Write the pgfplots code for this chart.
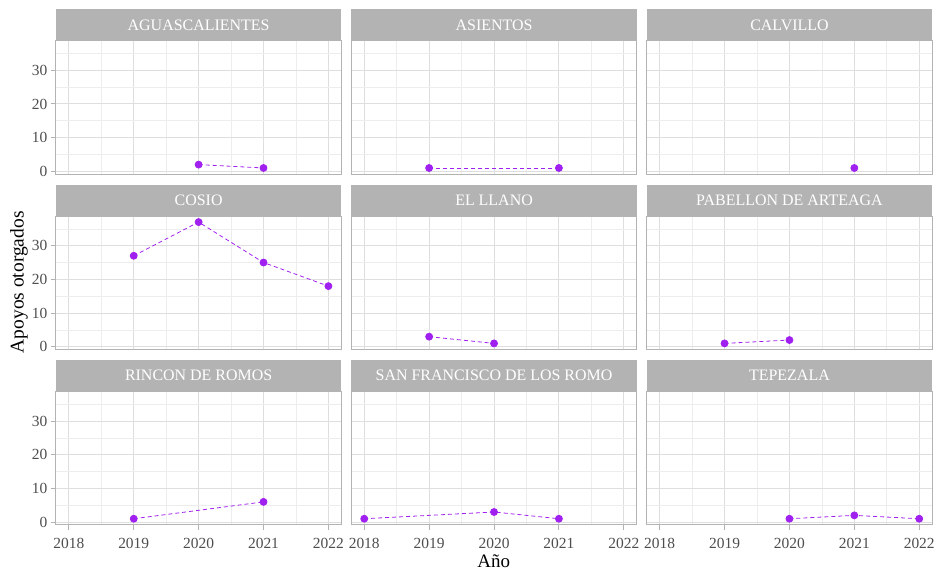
\documentclass[border=0pt]{standalone}
\usepackage{pgfplots}
\pgfplotsset{compat=1.18}
\usepackage{fontspec}
\setmainfont{Liberation Serif}
\definecolor{grA}{HTML}{B3B3B3}
\definecolor{grMaj}{HTML}{DEDEDE}
\definecolor{grMin}{HTML}{EDEDED}
\definecolor{grTxt}{HTML}{4D4D4D}
\definecolor{purp}{HTML}{A020F0}
\pgfplotsset{
  facet/.style={
    scale only axis, width=286.3pt, height=133.8pt, anchor=north west,
    xmin=2017.8, xmax=2022.2, ymin=-0.8, ymax=38.8,
    xtick={2018,2019,2020,2021,2022}, ytick={0,10,20,30},
    minor xtick={2018.5,2019.5,2020.5,2021.5}, minor ytick={5,15,25,35},
    grid=both,
    major grid style={color=grMaj, line width=0.9pt},
    minor grid style={color=grMin, line width=0.6pt},
    axis line style={grA, line width=0.9pt},
    tick style={color=grA, line width=0.9pt},
    major tick length=5pt, minor tick length=0pt,
    tick align=outside, xtick pos=bottom, ytick pos=left,
    /pgf/number format/1000 sep={},
    /pgf/number format/assume math mode=true,
    ticklabel style={font=\fontsize{15.5}{18}\selectfont, text=grTxt},
    xticklabel style={yshift=-5pt},
    every axis title shift=0pt,
    title style={at={(0.5,1)}, anchor=south, yshift=0pt, fill=grA, inner sep=0pt,
      minimum width=286.3pt, minimum height=31pt, text=white,
      font=\fontsize{16}{19}\selectfont},
    every axis plot post/.append style={color=purp, line width=0.8pt,
      dash pattern=on 4pt off 3pt, mark=*, mark size=3.5pt,
      mark options={solid, fill=purp, draw=purp}},
  },
  nox/.style={xticklabels={}, xtick style={draw=none}},
  noy/.style={yticklabels={}, ytick style={draw=none}},
}
\begin{document}
\begin{tikzpicture}
\path (0,0) rectangle (938pt,-571pt);
% row 1
\begin{axis}[facet, nox, at={(56pt,-40.7pt)}, title={AGUASCALIENTES}]
\addplot coordinates {(2020,2) (2021,1)};
\end{axis}
\begin{axis}[facet, nox, noy, at={(352.2pt,-40.7pt)}, title={ASIENTOS}]
\addplot coordinates {(2019,1) (2021,1)};
\end{axis}
\begin{axis}[facet, nox, noy, at={(648.4pt,-40.7pt)}, title={CALVILLO}]
\addplot coordinates {(2021,1)};
\end{axis}
% row 2
\begin{axis}[facet, nox, at={(56pt,-216.6pt)}, title={COSIO}]
\addplot coordinates {(2019,27) (2020,37) (2021,25) (2022,18)};
\end{axis}
\begin{axis}[facet, nox, noy, at={(352.2pt,-216.6pt)}, title={EL LLANO}]
\addplot coordinates {(2019,3) (2020,1)};
\end{axis}
\begin{axis}[facet, nox, noy, at={(648.4pt,-216.6pt)}, title={PABELLON DE ARTEAGA}]
\addplot coordinates {(2019,1) (2020,2)};
\end{axis}
% row 3
\begin{axis}[facet, at={(56pt,-392.4pt)}, title={RINCON DE ROMOS}]
\addplot coordinates {(2019,1) (2021,6)};
\end{axis}
\begin{axis}[facet, noy, at={(352.2pt,-392.4pt)}, title={SAN FRANCISCO DE LOS ROMO}]
\addplot coordinates {(2018,1) (2020,3) (2021,1)};
\end{axis}
\begin{axis}[facet, noy, at={(648.4pt,-392.4pt)}, title={TEPEZALA}]
\addplot coordinates {(2020,1) (2021,2) (2022,1)};
\end{axis}
\node[font=\fontsize{19}{22}\selectfont] at (495pt,-563pt) {Año};
\node[font=\fontsize{19.5}{22}\selectfont, rotate=90] at (19pt,-283pt) {Apoyos otorgados};
\end{tikzpicture}
\end{document}
